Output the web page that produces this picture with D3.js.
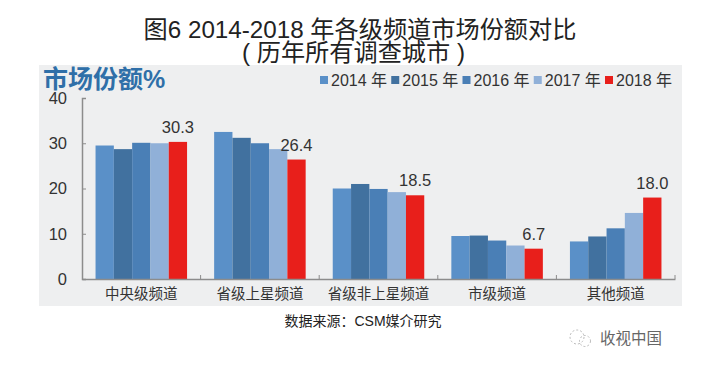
<!DOCTYPE html>
<html>
<head>
<meta charset="utf-8">
<script src="https://cdn.jsdelivr.net/npm/d3@7"></script>
<style>
  html, body { margin: 0; padding: 0; background: #fff; }
  text { font-family: "Liberation Sans", "Noto Sans CJK SC", sans-serif; }
  .title { font-size: 24.2px; fill: #222; text-anchor: middle; }
  .value-label { font-size: 16.5px; fill: #333; text-anchor: middle; }
  .legend-label { font-size: 16px; fill: #333; }
</style>
</head>
<body>
<div id="wrapper"></div>
<script>
const categories = ["中央级频道", "省级上星频道", "省级非上星频道", "市级频道", "其他频道"]
const years = ["2014 年", "2015 年", "2016 年", "2017 年", "2018 年"]
const values2014 = [29.5, 32.5, 20.0, 9.5, 8.3]
const values2015 = [28.7, 31.2, 21.0, 9.6, 9.4]
const values2016 = [30.1, 30.0, 19.9, 8.5, 11.2]
const values2017 = [30.0, 28.7, 19.2, 7.4, 14.6]
const values2018 = [30.3, 26.4, 18.5, 6.7, 18.0]
const yTicks = [0, 10, 20, 30, 40]
const seriesColors = ["#5a90c8", "#41719f", "#4a7fb6", "#90b0d8", "#e81f1b"]

const seriesValues = [values2014, values2015, values2016, values2017, values2018]

// 1. Dimensions
const dimensions = {
  width: 722,
  height: 372,
  margin: { top: 98, right: 47, bottom: 93, left: 82 },
}
dimensions.boundedWidth = dimensions.width - dimensions.margin.left - dimensions.margin.right
dimensions.boundedHeight = dimensions.height - dimensions.margin.top - dimensions.margin.bottom

// 2. Canvas
const wrapper = d3.select("#wrapper")
  .append("svg")
    .attr("width", dimensions.width)
    .attr("height", dimensions.height)
    .style("display", "block")

wrapper.append("rect")
    .attr("x", 39)
    .attr("y", 65)
    .attr("width", 643)
    .attr("height", 241)
    .attr("fill", "#eeeff0")

const bounds = wrapper.append("g")
    .attr("transform", `translate(${dimensions.margin.left}, ${dimensions.margin.top})`)

// 3. Scales
const xScale = d3.scaleBand()
    .domain(categories)
    .range([0, dimensions.boundedWidth])

const barScale = d3.scaleBand()
    .domain(years)
    .range([0, xScale.bandwidth()])
    .paddingOuter(0.74)

const yScale = d3.scaleLinear()
    .domain([0, 40])
    .range([dimensions.boundedHeight, 0])

// 4. Bars
const groups = bounds.selectAll(".group")
    .data(categories)
  .enter().append("g")
    .attr("class", "group")
    .attr("transform", d => `translate(${xScale(d)}, 0)`)

groups.selectAll("rect")
    .data((d, i) => years.map((year, s) => ({ year, value: seriesValues[s][i], color: seriesColors[s] })))
  .enter().append("rect")
    .attr("x", d => barScale(d.year))
    .attr("width", barScale.bandwidth())
    .attr("y", d => yScale(d.value))
    .attr("height", d => dimensions.boundedHeight - yScale(d.value))
    .attr("fill", d => d.color)

// labels only on the 2018 bar
groups.append("text")
    .attr("class", "value-label")
    .attr("x", barScale("2018 年") + barScale.bandwidth() / 2)
    .attr("y", (d, i) => yScale(values2018[i]) - 9)
    .text((d, i) => values2018[i].toFixed(1))

// 5. Axes
const yAxisGenerator = d3.axisLeft(yScale)
    .tickValues(yTicks)
    .tickSize(-4)

const yAxis = bounds.append("g").call(yAxisGenerator)
yAxis.select(".domain").attr("stroke", "#8c8c8c").attr("stroke-width", 1.5)
yAxis.selectAll(".tick line").attr("stroke", "#8c8c8c")
yAxis.selectAll(".tick text")
    .attr("x", -15)
    .attr("fill", "#333")
    .style("font-size", "16.5px")
    .style("font-family", "'Liberation Sans', sans-serif")

const xAxisGenerator = d3.axisBottom(xScale).tickSize(0).tickPadding(10)
const xAxis = bounds.append("g")
    .attr("transform", `translate(0, ${dimensions.boundedHeight})`)
    .call(xAxisGenerator)
xAxis.select(".domain").attr("stroke", "#8c8c8c").attr("stroke-width", 1.5)
xAxis.selectAll(".tick text")
    .attr("fill", "#333")
    .style("font-size", "14.5px")
    .style("font-family", "'Liberation Sans', 'Noto Sans CJK SC', sans-serif")

// small tick marks between the groups
bounds.selectAll(".band-tick")
    .data(categories)
  .enter().append("line")
    .attr("x1", d => xScale(d) + xScale.bandwidth())
    .attr("x2", d => xScale(d) + xScale.bandwidth())
    .attr("y1", dimensions.boundedHeight - 4)
    .attr("y2", dimensions.boundedHeight)
    .attr("stroke", "#8c8c8c")

// 6. Peripherals
wrapper.append("text").attr("class", "title").attr("x", 360).attr("y", 37.5)
    .text("图6 2014-2018 年各级频道市场份额对比")
wrapper.append("text").attr("class", "title").attr("x", 353.5).attr("y", 61)
    .text("( 历年所有调查城市 )")

wrapper.append("text")
    .attr("x", 43)
    .attr("y", 88)
    .style("font-size", "25px")
    .style("font-weight", "700")
    .attr("fill", "#2f6fa8")
    .text("市场份额%")

const legendX = d3.scalePoint()
    .domain(years)
    .range([320, 605])

const legend = wrapper.selectAll(".legend")
    .data(years)
  .enter().append("g")
    .attr("class", "legend")
    .attr("transform", d => `translate(${legendX(d)}, 76)`)

legend.append("rect")
    .attr("width", 8)
    .attr("height", 8)
    .attr("fill", (d, i) => seriesColors[i])

legend.append("text")
    .attr("class", "legend-label")
    .attr("x", 11)
    .attr("y", 10)
    .text(d => d)

wrapper.append("text")
    .attr("x", 363)
    .attr("y", 326)
    .attr("text-anchor", "middle")
    .style("font-size", "14px")
    .attr("fill", "#222")
    .text("数据来源：CSM媒介研究")

// watermark
const mark = wrapper.append("g").attr("transform", "translate(577, 338)")
mark.append("circle").attr("r", 7).attr("cx", 0).attr("cy", -1)
    .attr("fill", "none").attr("stroke", "#aaa").attr("stroke-width", 0.8).attr("stroke-dasharray", "2 2")
mark.append("circle").attr("r", 5.5).attr("cx", 8).attr("cy", 3)
    .attr("fill", "none").attr("stroke", "#aaa").attr("stroke-width", 0.8).attr("stroke-dasharray", "2 2")
wrapper.append("text")
    .attr("x", 600)
    .attr("y", 344)
    .style("font-size", "15.5px")
    .attr("fill", "#666")
    .text("收视中国")
</script>
</body>
</html>
